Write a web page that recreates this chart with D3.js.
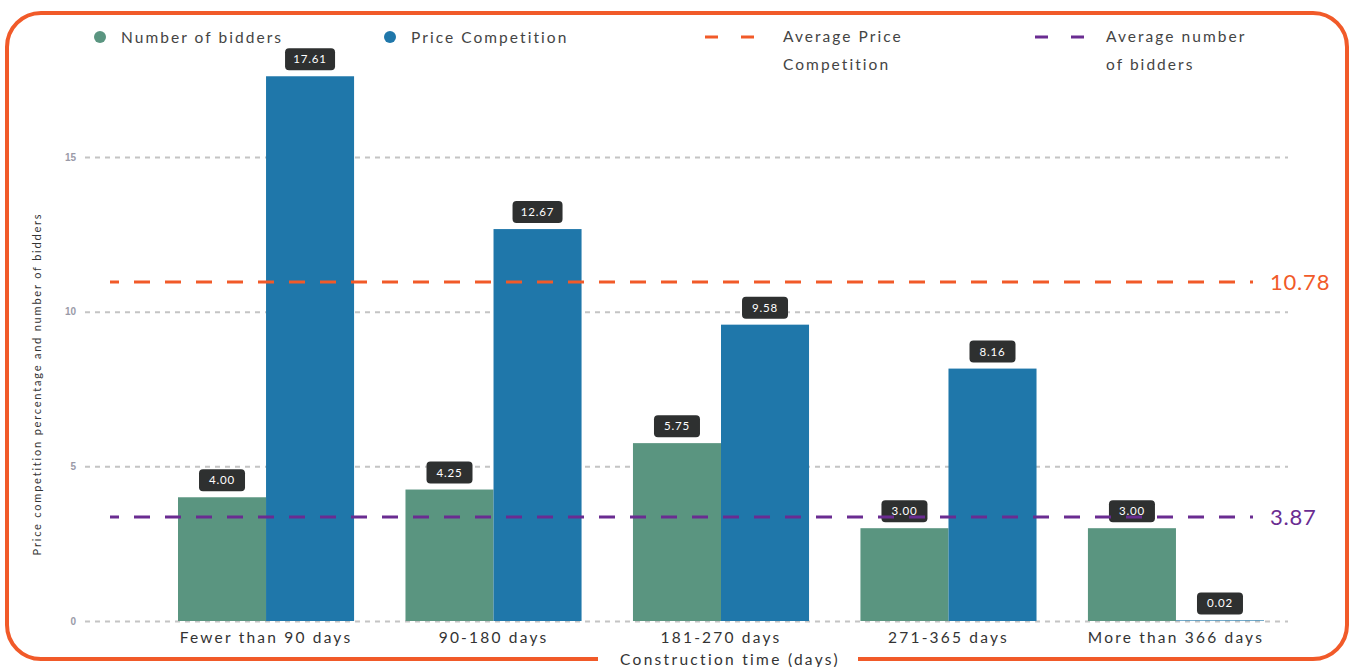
<!DOCTYPE html>
<html><head><meta charset="utf-8">
<script src="https://cdn.jsdelivr.net/npm/d3@7"></script>
<style>
html,body{margin:0;padding:0;background:#fff;}
svg{display:block;font-family:"Lato","Open Sans",sans-serif;}
</style></head>
<body>
<svg id="chart" width="1354" height="667"></svg>
<script>
const categories = ["Fewer than 90 days","90-180 days","181-270 days","271-365 days","More than 366 days"];
const bidders = [4.00, 4.25, 5.75, 3.00, 3.00];
const priceCompetition = [17.61, 12.67, 9.58, 8.16, 0.02];
const yTicks = [0, 5, 10, 15];
const seriesNames = ["Number of bidders", "Price Competition"];
const avgLabels = ["10.78", "3.87"];
const avgLinePositions = [10.96, 3.36]; // where the reference draws the dashed lines
const avgLegend = [["Average Price","Competition"],["Average number","of bidders"]];
const xTitle = "Construction time (days)";
const yTitle = "Price competition percentage and number of bidders";

const green = "#5a9580", blue = "#1f77aa", orange = "#f15a29", purple = "#6a2c91";
const svg = d3.select("#chart");

const y = d3.scaleLinear().domain([0, 15]).range([621, 157]);
const x0 = d3.scaleBand().domain(categories).range([178, 1264]).paddingInner(0.226).paddingOuter(0);
const x1 = d3.scaleBand().domain([0,1]).range([0, x0.bandwidth()]);

// frame
svg.append("rect").attr("x",7).attr("y",13).attr("width",1340).attr("height",646)
  .attr("rx",34).attr("fill","none").attr("stroke",orange).attr("stroke-width",4);
svg.append("rect").attr("x",598).attr("y",654).attr("width",260).attr("height",12).attr("fill","#fff");

// grid
const grid = d3.axisLeft(y).tickValues(yTicks).tickSize(-(1288-85)).tickFormat(d3.format("d"));
const g = svg.append("g").attr("transform","translate(85,0)").call(grid);
g.select(".domain").remove();
g.selectAll(".tick line").attr("stroke","#c4c4c4").attr("stroke-width",2).attr("stroke-dasharray","5,5");
g.selectAll(".tick text").attr("x",-9).attr("fill","#9a9aa8").attr("font-size",10).attr("font-weight","bold");

// bars
const groups = svg.append("g").selectAll("g").data(categories).join("g")
  .attr("transform", d => `translate(${x0(d)},0)`);
const vals = (c,i) => [bidders[i], priceCompetition[i]];
groups.each(function(c,i){
  const gg = d3.select(this);
  const v = vals(c,i);
  gg.selectAll("rect.bar").data(v).join("rect").attr("class","bar")
    .attr("x",(d,j)=>x1(j)).attr("width",x1.bandwidth())
    .attr("y",d=>y(d)).attr("height",d=>y(0)-y(d))
    .attr("fill",(d,j)=> j===0?green:blue);
});

// average lines
const lineColors = [orange, purple];
avgLinePositions.forEach((v,i)=>{
  svg.append("line").attr("x1",110).attr("x2",1253).attr("y1",y(v)).attr("y2",y(v))
    .attr("stroke",lineColors[i]).attr("stroke-width",3).attr("stroke-dasharray","16,15").attr("stroke-dashoffset",7);
  svg.append("text").attr("x",1270).attr("y",y(v)+8).attr("fill",lineColors[i])
    .attr("font-size",22).attr("letter-spacing",0.8).text(avgLabels[i]);
});

// value labels
groups.each(function(c,i){
  const gg = d3.select(this);
  const v = vals(c,i);
  v.forEach((d,j)=>{
    const cx = x1(j) + x1.bandwidth()/2;
    const by = y(d) - 6;
    const lab = d.toFixed(2);
    const w = lab.length > 4 ? 50 : 46;
    gg.append("rect").attr("x",cx-w/2).attr("y",by-22).attr("width",w).attr("height",22)
      .attr("rx",4).attr("fill","#2e3030");
    gg.append("text").attr("x",cx).attr("y",by-7).attr("text-anchor","middle")
      .attr("fill","#fff").attr("font-size",11.5).attr("letter-spacing",0.8).text(lab);
  });
});

// x axis labels
const xa = d3.axisBottom(x0).tickSize(0).tickPadding(0);
const xg = svg.append("g").attr("transform","translate(0,632)").call(xa);
xg.select(".domain").remove();
xg.selectAll(".tick text").attr("font-size",15.5).attr("fill","#333").attr("letter-spacing",2.2)
  .attr("font-family","Lato, sans-serif");

svg.append("text").attr("x",730).attr("y",665).attr("text-anchor","middle").attr("font-size",15.5)
  .attr("fill","#333").attr("letter-spacing",2.3).text(xTitle);

svg.append("text").attr("transform","translate(41,384) rotate(-90)").attr("text-anchor","middle")
  .attr("font-size",11).attr("fill","#333").attr("letter-spacing",1.8).text(yTitle);

// legend
const lg = svg.append("g");
[[100,green],[390,blue]].forEach(([cx,col],i)=>{
  lg.append("circle").attr("cx",cx).attr("cy",37).attr("r",6).attr("fill",col);
  lg.append("text").attr("x",cx+21).attr("y",43).attr("font-size",15.5).attr("fill","#444")
    .attr("letter-spacing",2.05).text(seriesNames[i]);
});
[[705,orange,783],[1035,purple,1106]].forEach(([lx,col,tx],i)=>{
  lg.append("line").attr("x1",lx).attr("x2",lx+49).attr("y1",37).attr("y2",37)
    .attr("stroke",col).attr("stroke-width",3).attr("stroke-dasharray","13,23");
  avgLegend[i].forEach((t,k)=>{
    lg.append("text").attr("x",tx).attr("y",42+k*28).attr("font-size",15.5).attr("fill","#444")
      .attr("letter-spacing",2.05).text(t);
  });
});
</script>
</body></html>
